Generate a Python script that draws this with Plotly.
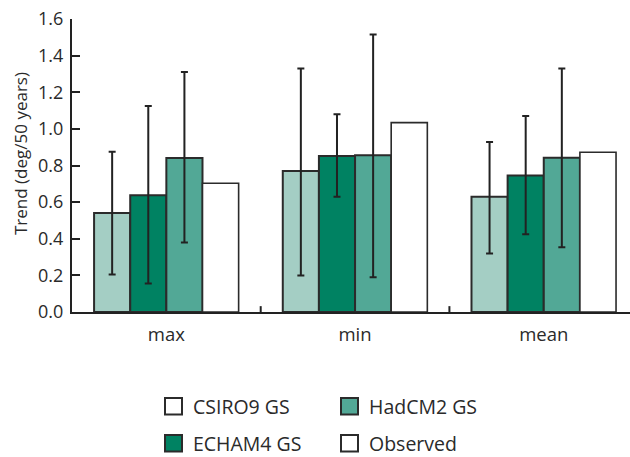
import plotly.graph_objects as go

categories = ["max", "min", "mean"]
series_names = ["CSIRO9 GS", "ECHAM4 GS", "HadCM2 GS", "Observed"]
series_colors = ["#a4cec4", "#008262", "#52a896", "#ffffff"]

csiro_vals = [0.54, 0.77, 0.63]
csiro_hi = [0.875, 1.33, 0.928]
csiro_lo = [0.205, 0.20, 0.32]

echam_vals = [0.637, 0.852, 0.746]
echam_hi = [1.125, 1.08, 1.07]
echam_lo = [0.155, 0.63, 0.424]

hadcm_vals = [0.841, 0.856, 0.843]
hadcm_hi = [1.31, 1.515, 1.33]
hadcm_lo = [0.38, 0.19, 0.353]

obs_vals = [0.703, 1.034, 0.872]

y_ticks = [0.0, 0.2, 0.4, 0.6, 0.8, 1.0, 1.2, 1.4, 1.6]
y_ticktext = ["0.0", "0.2", "0.4", "0.6", "0.8", "1.0", "1.2", "1.4", "1.6"]

FONT = "Open Sans"
TXT = "#2a2a2a"

fig = go.Figure()

def add_bar(name, vals, color, hi=None, lo=None, lw=2):
    err = None
    if hi is not None:
        err = dict(type="data", symmetric=False,
                   array=[h - v for h, v in zip(hi, vals)],
                   arrayminus=[v - l for v, l in zip(vals, lo)],
                   color="#222222", thickness=2, width=3.5)
    fig.add_trace(go.Bar(name=name, x=categories, y=vals,
                         marker=dict(color=color, line=dict(color="#2b2b2b", width=lw)),
                         error_y=err, showlegend=False))

add_bar(series_names[0], csiro_vals, series_colors[0], csiro_hi, csiro_lo)
add_bar(series_names[1], echam_vals, series_colors[1], echam_hi, echam_lo)
add_bar(series_names[2], hadcm_vals, series_colors[2], hadcm_hi, hadcm_lo)
add_bar(series_names[3], obs_vals, series_colors[3], lw=1.6)

# category separator ticks
for xv in [0.5, 1.5]:
    fig.add_shape(type="line", xref="x", yref="y", x0=xv, x1=xv, y0=0, y1=0.032,
                  line=dict(color="#222222", width=2))

# manual legend (as in reference: CSIRO9 swatch drawn white)
legend_items = [
    ("CSIRO9 GS", "#ffffff", 165, 398),
    ("HadCM2 GS", series_colors[2], 341, 398),
    ("ECHAM4 GS", series_colors[1], 165, 435),
    ("Observed", "#ffffff", 341, 435),
]
L, T, W, H = 72, 19, 558, 293
def px(xp):
    return (xp - L) / W
def py(yp):
    return (T + H - yp) / H
for label, col, x0, y0 in legend_items:
    fig.add_shape(type="rect", xref="paper", yref="paper",
                  x0=px(x0), x1=px(x0 + 17), y0=py(y0), y1=py(y0 + 16.5),
                  fillcolor=col, line=dict(color="#2b2b2b", width=2))
    fig.add_annotation(xref="paper", yref="paper", x=px(x0 + 26), y=py(y0 + 8.5),
                       text=label, showarrow=False, xanchor="left", yanchor="middle",
                       font=dict(family=FONT, size=19.5, color=TXT))

# y-axis title
fig.add_annotation(xref="paper", yref="paper", x=px(20), y=py(154),
                   text="Trend (deg/50 years)", showarrow=False, textangle=-90,
                   xanchor="center", yanchor="middle",
                   font=dict(family=FONT, size=17, color=TXT))

fig.update_layout(
    width=630, height=457,
    margin=dict(l=L, r=0, t=T, b=457 - T - H, pad=0),
    paper_bgcolor="white", plot_bgcolor="white",
    barmode="group", bargap=0.234, bargroupgap=0,
    font=dict(family=FONT, size=18, color=TXT),
    showlegend=False,
)
fig.update_xaxes(range=[-0.5, 2.457], showline=True, linecolor="#222222", linewidth=2,
                 ticks="", showgrid=False, zeroline=False,
                 tickfont=dict(family=FONT, size=18.5, color=TXT), ticklabelstandoff=5)
fig.update_yaxes(range=[0, 1.6], tickvals=y_ticks, ticktext=y_ticktext,
                 showline=True, linecolor="#222222", linewidth=2,
                 ticks="inside", ticklen=8, tickwidth=2, tickcolor="#222222",
                 showgrid=False, zeroline=False,
                 tickfont=dict(family=FONT, size=18, color=TXT), ticklabelstandoff=3)

fig.write_html("out.html")
